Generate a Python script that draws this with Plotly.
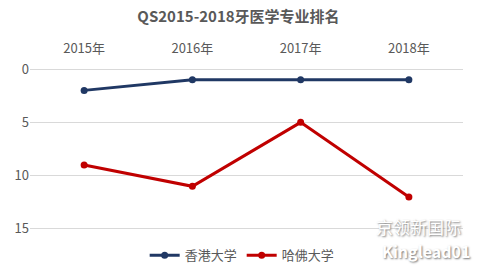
import plotly.graph_objects as go

years = ["2015年", "2016年", "2017年", "2018年"]
hku = [2, 1, 1, 1]
harvard = [9, 11, 5, 12]
y_ticks = [0, 5, 10, 15]

font_family = "Noto Sans CJK SC, Noto Sans, sans-serif"

fig = go.Figure()
fig.add_trace(go.Scatter(x=years, y=hku, name="香港大学", mode="lines+markers",
                         line=dict(color="#203864", width=3), marker=dict(size=7, color="#203864")))
fig.add_trace(go.Scatter(x=years, y=harvard, name="哈佛大学", mode="lines+markers",
                         line=dict(color="#C00000", width=3), marker=dict(size=7, color="#C00000")))

fig.update_layout(
    width=477, height=271,
    margin=dict(l=30, r=14, t=68, b=41, autoexpand=False),
    paper_bgcolor="white", plot_bgcolor="white",
    font=dict(family=font_family, size=12, color="#595959"),
    title=dict(text="<b>QS2015-2018牙医学专业排名</b>", x=0.5, xanchor="center",
               y=0.94, yanchor="middle", font=dict(size=15, color="#595959")),
    xaxis=dict(side="top", showgrid=False, showline=False, ticks="", tickfont=dict(size=13),
               range=[-0.5, 3.5], automargin=False, ticklabelstandoff=11),
    yaxis=dict(range=[15.1, -0.1], tickvals=y_ticks, showgrid=True, gridcolor="#D9D9D9",
               gridwidth=1, zeroline=False, showline=False, ticks="", tickfont=dict(size=13),
               automargin=False),
    legend=dict(orientation="h", x=0.49, xanchor="center", yref="container", y=0.058,
                yanchor="middle", font=dict(size=13, color="#595959")),
    showlegend=True,
)

fig.add_annotation(text="京领新国际", xref="paper", yref="paper", x=1.0, y=0.02, xanchor="right",
                   yanchor="middle", showarrow=False,
                   font=dict(size=17, color="white", shadow="1px 1px 2px #777"))
fig.add_annotation(text="<b>Kinglead01</b>", xref="paper", yref="paper", x=1.02, y=-0.13, xanchor="right",
                   yanchor="middle", showarrow=False,
                   font=dict(size=16, color="white", shadow="1px 1px 2px #777"))

fig.write_html("out.html")
